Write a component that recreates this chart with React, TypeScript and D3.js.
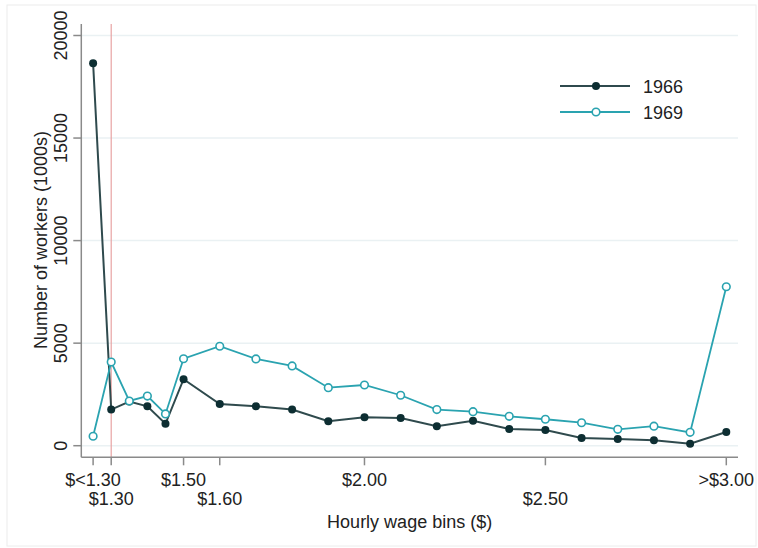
import React from "react";
import * as d3 from "d3";

const wageBins = [1.25, 1.3, 1.35, 1.4, 1.45, 1.5, 1.6, 1.7, 1.8, 1.9, 2.0, 2.1, 2.2, 2.3, 2.4, 2.5, 2.6, 2.7, 2.8, 2.9, 3.0];
const workers1966 = [18650, 1760, 2150, 1920, 1070, 3240, 2030, 1920, 1760, 1190, 1390, 1350, 950, 1220, 820, 770, 380, 330, 260, 100, 670];
const workers1969 = [460, 4080, 2180, 2420, 1550, 4240, 4850, 4230, 3890, 2830, 2960, 2460, 1760, 1660, 1430, 1290, 1120, 800, 950, 650, 7750];
const xTickValues = [1.25, 1.3, 1.5, 1.6, 2.0, 2.5, 3.0];
const xTickLabels = ["$<1.30", "$1.30", "$1.50", "$1.60", "$2.00", "$2.50", ">$3.00"];
const xTickRow = [0, 1, 0, 1, 0, 1, 0];
const yTickValues = [0, 5000, 10000, 15000, 20000];
const seriesNames = ["1966", "1969"];
const minWage = 1.3;

const W = 758;
const H = 548;
const FONT = "'Liberation Sans', Arial, sans-serif";
const C66 = "#0d2e32";
const C66L = "#2f4a4d";
const C69 = "#2aa3b0";
const TXT = "#222";

export default function App() {
  const x = d3.scaleLinear().domain([1.3, 3.0]).range([111.2, 726.3]);
  const y = d3.scaleLinear().domain([0, 20000]).range([445.7, 35.5]);
  const left = 81.3;
  const right = 738;
  const top = 24;
  const bottom = 457.3;

  const line = d3
    .line<[number, number]>()
    .x((d) => x(d[0]))
    .y((d) => y(d[1]));

  const d66 = wageBins.map((w, i) => [w, workers1966[i]] as [number, number]);
  const d69 = wageBins.map((w, i) => [w, workers1969[i]] as [number, number]);

  return (
    <svg
      width={W}
      height={H}
      style={{ position: "absolute", left: 0, top: 0, background: "#fff" }}
      fontFamily={FONT}
    >
      <rect x={7} y={5} width={749} height={541} fill="#fff" stroke="#ececec" strokeWidth={1} />
      {/* gridlines */}
      {yTickValues.map((v) => (
        <line key={"g" + v} x1={left} x2={right} y1={y(v)} y2={y(v)} stroke="#eaf1f3" strokeWidth={1.5} />
      ))}
      {/* minimum wage reference line */}
      <line x1={x(minWage)} x2={x(minWage)} y1={top} y2={bottom} stroke="#e8a3a3" strokeWidth={1.2} />
      {/* axes */}
      <line x1={left} x2={left} y1={top} y2={bottom} stroke="#8a8a8a" strokeWidth={1.5} />
      <line x1={left} x2={right} y1={bottom} y2={bottom} stroke="#8a8a8a" strokeWidth={1.5} />
      {yTickValues.map((v) => (
        <g key={"yt" + v}>
          <line x1={left - 8} x2={left} y1={y(v)} y2={y(v)} stroke="#8a8a8a" strokeWidth={1.5} />
          <text
            transform={`translate(${66.5},${y(v)}) rotate(-90)`}
            textAnchor="middle"
            fontSize={18}
            fill={TXT}
          >
            {v}
          </text>
        </g>
      ))}
      {xTickValues.map((v, i) => (
        <g key={"xt" + v}>
          <line x1={x(v)} x2={x(v)} y1={bottom} y2={bottom + 8} stroke="#8a8a8a" strokeWidth={1.5} />
          <text
            x={x(v)}
            y={xTickRow[i] === 0 ? 486 : 505}
            textAnchor="middle"
            fontSize={18}
            fill={TXT}
          >
            {xTickLabels[i]}
          </text>
        </g>
      ))}
      <text
        transform={`translate(47,240) rotate(-90)`}
        textAnchor="middle"
        fontSize={18}
        fill={TXT}
      >
        Number of workers (1000s)
      </text>
      <text x={(left + right) / 2} y={528} textAnchor="middle" fontSize={18} fill={TXT}>
        Hourly wage bins ($)
      </text>

      {/* series 1966 */}
      <path d={line(d66) || ""} fill="none" stroke={C66L} strokeWidth={2} />
      {d66.map((d, i) => (
        <circle key={"p66" + i} cx={x(d[0])} cy={y(d[1])} r={4} fill={C66} />
      ))}
      {/* series 1969 */}
      <path d={line(d69) || ""} fill="none" stroke={C69} strokeWidth={1.8} />
      {d69.map((d, i) => (
        <circle key={"p69" + i} cx={x(d[0])} cy={y(d[1])} r={3.8} fill="#fff" stroke={C69} strokeWidth={1.6} />
      ))}

      {/* legend */}
      <g>
        <line x1={560} x2={630} y1={86} y2={86} stroke={C66L} strokeWidth={2} />
        <circle cx={596} cy={86} r={4} fill={C66} />
        <text x={643} y={92.5} fontSize={18} fill={TXT}>
          {seriesNames[0]}
        </text>
        <line x1={560} x2={630} y1={112} y2={112} stroke={C69} strokeWidth={1.8} />
        <circle cx={596} cy={112} r={3.8} fill="#fff" stroke={C69} strokeWidth={1.6} />
        <text x={643} y={118.5} fontSize={18} fill={TXT}>
          {seriesNames[1]}
        </text>
      </g>
    </svg>
  );
}
